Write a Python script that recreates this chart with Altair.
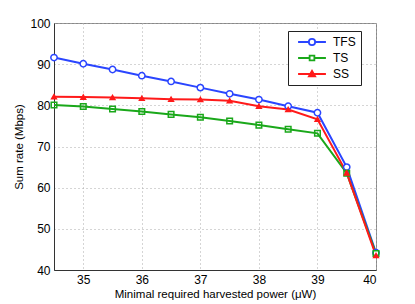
import altair as alt
import pandas as pd

power = [34.5, 35, 35.5, 36, 36.5, 37, 37.5, 38, 38.5, 39, 39.5, 40]
tfs = [91.6, 90.1, 88.7, 87.2, 85.8, 84.3, 82.8, 81.4, 79.8, 78.2, 65.0, 44.2]
ts = [80.1, 79.7, 79.1, 78.5, 77.8, 77.1, 76.2, 75.2, 74.2, 73.2, 63.5, 44.0]
ss = [82.1, 82.0, 81.9, 81.7, 81.5, 81.4, 81.1, 79.8, 79.0, 76.6, 63.6, 43.5]
series = ["TFS", "TS", "SS"]
colors = ["#2a45ff", "#1aa81a", "#ff1a1a"]
fills = ["white", "rgba(0,0,0,0)", "#ff1a1a"]

rows = []
for name, vals in zip(series, [tfs, ts, ss]):
    for p, v in zip(power, vals):
        rows.append({"power": p, "rate": v, "scheme": name})
df = pd.DataFrame(rows)

circle = "M-4.4,0H-1M1,0H4.4M-1,0A1,1 0 1,1 1,0A1,1 0 1,1 -1,0Z"
square = "M-4.4,0H-0.75M0.75,0H4.4M-0.75,-0.75H0.75V0.75H-0.75Z"
tri = "M-4.4,0H4.4M-1,0.75L0,-1L1,0.75Z"
mark_shapes = ["circle", "square", "triangle-up"]

xenc = alt.X("power:Q", title="Minimal required harvested power (\u03bcW)",
             scale=alt.Scale(domain=[34.5, 40], nice=False),
             axis=alt.Axis(values=[35, 36, 37, 38, 39, 40], format="d"))
yenc = alt.Y("rate:Q", title="Sum rate (Mbps)",
             scale=alt.Scale(domain=[40, 100], nice=False),
             axis=alt.Axis(values=[40, 50, 60, 70, 80, 90, 100]))

lines = alt.Chart(df).mark_line(strokeWidth=2).encode(
    x=xenc, y=yenc,
    stroke=alt.Stroke("scheme:N", scale=alt.Scale(domain=series, range=colors), legend=None),
    detail="scheme:N",
)

pts = alt.Chart(df).mark_point(filled=False, strokeWidth=1.5, opacity=1).encode(
    x=xenc, y=yenc,
    stroke=alt.Stroke("scheme:N", scale=alt.Scale(domain=series, range=colors), legend=None),
    fill=alt.Fill("scheme:N", scale=alt.Scale(domain=series, range=fills), legend=None),
    shape=alt.Shape("scheme:N", scale=alt.Scale(domain=series, range=mark_shapes), legend=None),
    size=alt.Size("scheme:N", scale=alt.Scale(domain=series, range=[40, 22, 50]), legend=None),
)

leg = alt.Legend(title=None, orient="none", legendX=234, legendY=8,
                 strokeColor="#222222", fillColor="white", padding=5,
                 symbolOffset=13, labelOffset=15, rowPadding=3)
legend_layer = alt.Chart(df).transform_filter("datum.power > 1000").mark_point(
    filled=False, strokeWidth=1.8, opacity=1, size=40).encode(
    x=xenc, y=yenc,
    stroke=alt.Stroke("scheme:N", scale=alt.Scale(domain=series, range=colors), legend=leg),
    fill=alt.Fill("scheme:N", scale=alt.Scale(domain=series, range=fills), legend=leg),
    shape=alt.Shape("scheme:N", scale=alt.Scale(domain=series, range=[circle, square, tri]), legend=leg),
)

chart = alt.layer(lines, pts, legend_layer).resolve_scale(
    stroke="independent", fill="independent", shape="independent", size="independent"
).properties(
    width=322, height=247,
    autosize=alt.AutoSizeParams(type="none"),
    padding={"left": 46, "top": 15, "right": 31, "bottom": 34},
).configure_view(stroke="#888888", strokeWidth=1).configure_axis(
    grid=True, gridDash=[1, 3], gridColor="#aaaaaa", gridOpacity=1,
    ticks=False, labelFont="Liberation Sans", titleFont="Liberation Sans",
    labelFontSize=12, titleFontSize=11.5, titleFontWeight="normal",
    labelColor="#000000", titleColor="#000000", domainColor="#333333", labelPadding=4,
).configure_axisY(titlePadding=5).configure_axisX(titlePadding=3).configure_legend(
    labelFont="Liberation Sans", labelFontSize=12, labelColor="#000000",
    symbolSize=40, symbolStrokeWidth=1.8, cornerRadius=0,
)

chart.save("out.html", embed_options={"renderer": "svg", "actions": False})
